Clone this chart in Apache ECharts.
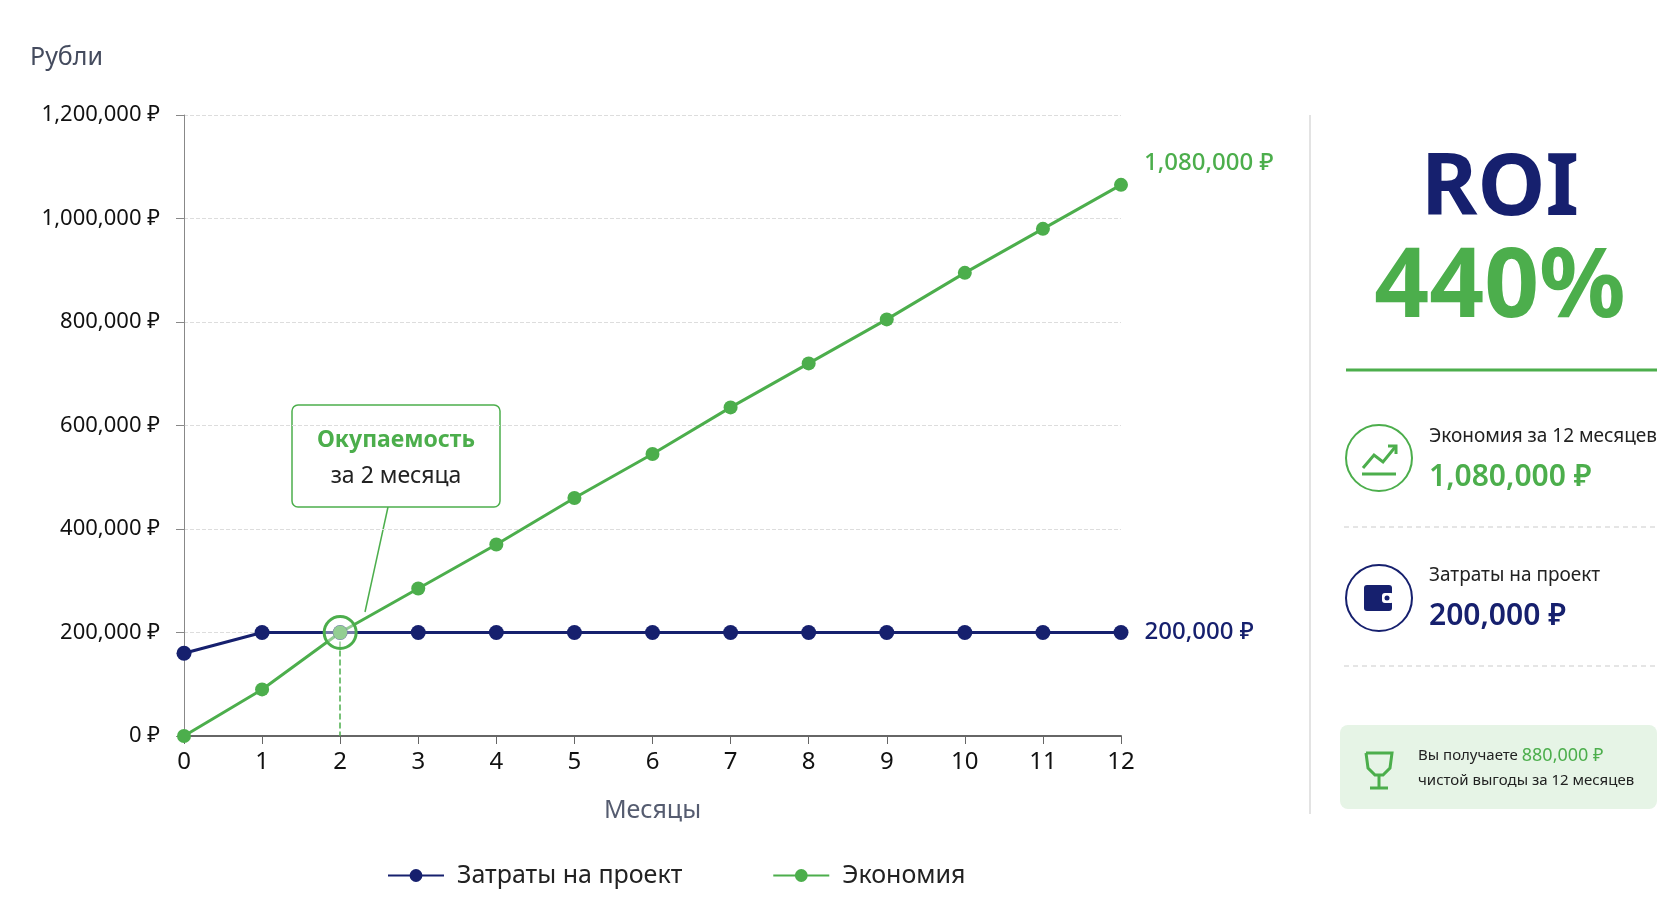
<!DOCTYPE html>
<html><head><meta charset="utf-8">
<script src="https://cdn.jsdelivr.net/npm/echarts@6/dist/echarts.min.js"></script>
<style>html,body{margin:0;background:#fff}#c{width:1680px;height:921px}</style>
</head><body><div id="c"></div>
<script>
const months = [0,1,2,3,4,5,6,7,8,9,10,11,12];
const costs = [160000,200000,200000,200000,200000,200000,200000,200000,200000,200000,200000,200000,200000];
const savings = [0,90000,200000,285000,370000,460000,545000,635000,720000,805000,895000,980000,1065000];
const yTicks = [0,200000,400000,600000,800000,1000000,1200000];
const NAVY='#16206e', GREEN='#4cae4c', F='"Noto Sans", sans-serif';
const fmt = v => v.toLocaleString('en-US') + ' ₽';
const chart = echarts.init(document.getElementById('c'));
const lastLabel = (name,color,off) => ({show:true, formatter:p=>p.dataIndex===12?fmt(name):'', position:'right', distance:16, offset:off, color, fontSize:24, fontFamily:F, fontWeight:500});
chart.setOption({
  animation:false,
  textStyle:{fontFamily:F},
  grid:{left:184,right:559,top:115,bottom:185},
  xAxis:{type:'value',min:0,max:12,interval:1,name:'Месяцы',nameLocation:'middle',nameGap:62,
    nameTextStyle:{fontSize:25,color:'#555c70'},
    axisLine:{lineStyle:{color:'#666',width:2}},axisTick:{show:true,length:8,lineStyle:{color:'#666'}},
    axisLabel:{fontSize:24,color:'#111',margin:14},splitLine:{show:false}},
  yAxis:{type:'value',min:0,max:1200000,interval:200000,
    axisLine:{show:true,lineStyle:{color:'#888',width:1}},axisTick:{show:true,length:8,lineStyle:{color:'#888'}},
    axisLabel:{fontSize:22,color:'#111',margin:24,formatter:v=>fmt(v)},
    splitLine:{lineStyle:{type:'dashed',color:'#ddd'}}},
  legend:{bottom:28,left:382,itemGap:90,itemWidth:56,itemHeight:16,
    textStyle:{fontSize:25,color:'#222',padding:[0,0,0,8]},data:['Затраты на проект','Экономия']},
  series:[
    {name:'Затраты на проект',type:'line',data:months.map((m,i)=>[m,costs[i]]),color:NAVY,
      symbol:'circle',symbolSize:15,lineStyle:{width:3},label:lastLabel(200000,NAVY,[0,0])},
    {name:'Экономия',type:'line',data:months.map((m,i)=>[m,savings[i]]),color:GREEN,
      symbol:'circle',symbolSize:14,lineStyle:{width:3},label:lastLabel(1080000,GREEN,[0,-22]),
      markLine:{silent:true,symbol:'none',label:{show:false},lineStyle:{color:GREEN,type:'dashed',width:1.5},
        data:[[{coord:[2,200000]},{coord:[2,0]}]]},
      markPoint:{symbol:'circle',symbolSize:32,itemStyle:{color:'rgba(255,255,255,0.4)',borderColor:GREEN,borderWidth:3},
        label:{show:false},data:[{coord:[2,200000]}]}}
  ],
  graphic:[
    {type:'text',left:30,top:45,style:{text:'Рубли',fontSize:25,fill:'#444b5e',fontFamily:F}},
    {type:'line',shape:{x1:388,y1:507,x2:365,y2:612},style:{stroke:GREEN,lineWidth:1.5}},
    {type:'rect',shape:{x:292,y:405,width:208,height:102,r:6},style:{fill:'#fff',stroke:GREEN,lineWidth:1.5}},
    {type:'text',x:396,y:440,style:{text:'Окупаемость',fontSize:23,fontWeight:'bold',fill:GREEN,align:'center',verticalAlign:'middle',fontFamily:F}},
    {type:'text',x:396,y:476,style:{text:'за 2 месяца',fontSize:23,fill:'#222',align:'center',verticalAlign:'middle',fontFamily:F}},
    {type:'line',shape:{x1:1310,y1:115,x2:1310,y2:814},style:{stroke:'#e3e3e3',lineWidth:2}},
    {type:'text',x:1500,y:190,style:{text:'ROI',fontSize:86,fontWeight:'bold',fill:NAVY,align:'center',verticalAlign:'middle',fontFamily:F}},
    {type:'text',x:1500,y:290,style:{text:'440%',fontSize:96,fontWeight:'bold',fill:GREEN,align:'center',verticalAlign:'middle',fontFamily:F}},
    {type:'line',shape:{x1:1346,y1:370,x2:1657,y2:370},style:{stroke:GREEN,lineWidth:3}},
    {type:'circle',shape:{cx:1379,cy:458,r:33},style:{fill:'#fff',stroke:GREEN,lineWidth:2}},
    {type:'polyline',shape:{points:[[1363,468],[1374,455],[1383,462],[1396,446]]},style:{stroke:GREEN,lineWidth:3,fill:null}},
    {type:'polyline',shape:{points:[[1388,446],[1396,446],[1396,454]]},style:{stroke:GREEN,lineWidth:3,fill:null}},
    {type:'line',shape:{x1:1362,y1:474,x2:1396,y2:474},style:{stroke:GREEN,lineWidth:3}},
    {type:'text',x:1429,y:437,style:{text:'Экономия за 12 месяцев',fontSize:19,fill:'#222',verticalAlign:'middle',fontFamily:F}},
    {type:'text',x:1429,y:477,style:{text:'1,080,000 ₽',fontSize:30,fontWeight:600,fill:GREEN,verticalAlign:'middle',fontFamily:F}},
    {type:'line',shape:{x1:1344,y1:527,x2:1657,y2:527},style:{stroke:'#ddd',lineWidth:1.5,lineDash:[5,4]}},
    {type:'circle',shape:{cx:1379,cy:598,r:33},style:{fill:'#fff',stroke:NAVY,lineWidth:2}},
    {type:'rect',shape:{x:1364,y:585,width:28,height:26,r:3},style:{fill:NAVY}},
    {type:'rect',shape:{x:1382,y:593,width:12,height:10,r:3},style:{fill:'#fff'}},
    {type:'circle',shape:{cx:1387,cy:598,r:2.5},style:{fill:NAVY}},
    {type:'text',x:1429,y:576,style:{text:'Затраты на проект',fontSize:19,fill:'#222',verticalAlign:'middle',fontFamily:F}},
    {type:'text',x:1429,y:616,style:{text:'200,000 ₽',fontSize:30,fontWeight:600,fill:NAVY,verticalAlign:'middle',fontFamily:F}},
    {type:'line',shape:{x1:1344,y1:666,x2:1657,y2:666},style:{stroke:'#ddd',lineWidth:1.5,lineDash:[5,4]}},
    {type:'rect',shape:{x:1340,y:725,width:317,height:84,r:8},style:{fill:'#e6f4e6'}},
    {type:'polyline',shape:{points:[[1366,753],[1392,753],[1390,768],[1383,775],[1375,775],[1368,768],[1366,753]]},style:{stroke:GREEN,lineWidth:3,fill:null}},
    {type:'line',shape:{x1:1379,y1:775,x2:1379,y2:787},style:{stroke:GREEN,lineWidth:3}},
    {type:'line',shape:{x1:1370,y1:788,x2:1388,y2:788},style:{stroke:GREEN,lineWidth:3}},
    {type:'text',x:1418,y:756,style:{rich:{a:{fontSize:15,fill:'#222',fontFamily:F},b:{fontSize:18,fill:GREEN,fontFamily:F}},text:'{a|Вы получаете }{b|880,000 ₽}',verticalAlign:'middle'}},
    {type:'text',x:1418,y:781,style:{text:'чистой выгоды за 12 месяцев',fontSize:15,fill:'#222',verticalAlign:'middle',fontFamily:F}}
  ]
});
</script></body></html>
